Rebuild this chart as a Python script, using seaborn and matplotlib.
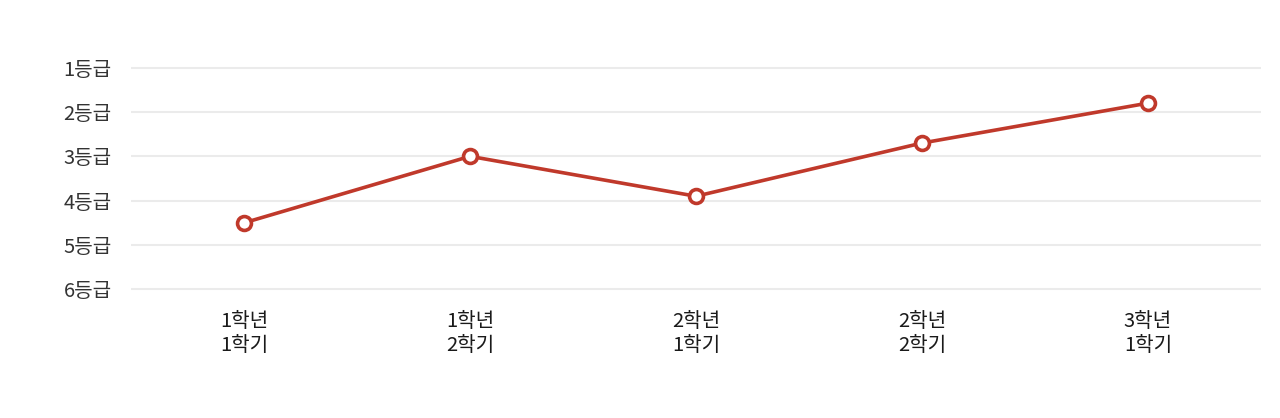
import matplotlib
matplotlib.use('Agg')
import matplotlib.pyplot as plt
import seaborn as sns
import pandas as pd

# data
semesters = ['1학년\n1학기', '1학년\n2학기', '2학년\n1학기', '2학년\n2학기', '3학년\n1학기']
grades = [4.5, 3.0, 3.9, 2.7, 1.8]
grade_ticks = [1, 2, 3, 4, 5, 6]
grade_labels = [f'{g}등급' for g in grade_ticks]

df = pd.DataFrame({'semester': semesters, 'grade': grades})

sns.set_style('white')
plt.rcParams['font.family'] = ['Noto Sans CJK KR', 'DejaVu Sans']

fig = plt.figure(figsize=(12.8, 4.18), dpi=100)
W, H = 1280, 418
left, right = 131, 1261
top, bottom = 58.8, 298.2
ax = fig.add_axes([left / W, 1 - bottom / H, (right - left) / W, (bottom - top) / H])

line_color = '#c0392b'
sns.lineplot(data=df, x='semester', y='grade', ax=ax, sort=False,
             color=line_color, linewidth=2.6, marker='o', markersize=10,
             markerfacecolor='white', markeredgecolor=line_color,
             markeredgewidth=2.6, zorder=3)

ax.set_xlim(-0.5, len(semesters) - 0.5)
ax.set_ylim(6.2, 0.8)
ax.set_yticks(grade_ticks)
ax.set_yticklabels(grade_labels)
ax.set_xlabel('')
ax.set_ylabel('')

for g in grade_ticks:
    ax.axhline(g, color='#ebebeb', linewidth=1.5, zorder=1)

for side in ax.spines.values():
    side.set_visible(False)
ax.grid(False)
ax.tick_params(axis='y', length=0, pad=14, labelsize=14.5, labelcolor='#333333')
ax.tick_params(axis='x', length=0, pad=9, labelsize=14.5, labelcolor='#1a1a1a')
for lbl in ax.get_xticklabels():
    lbl.set_linespacing(1.2)

fig.savefig('out.png', dpi=100)
